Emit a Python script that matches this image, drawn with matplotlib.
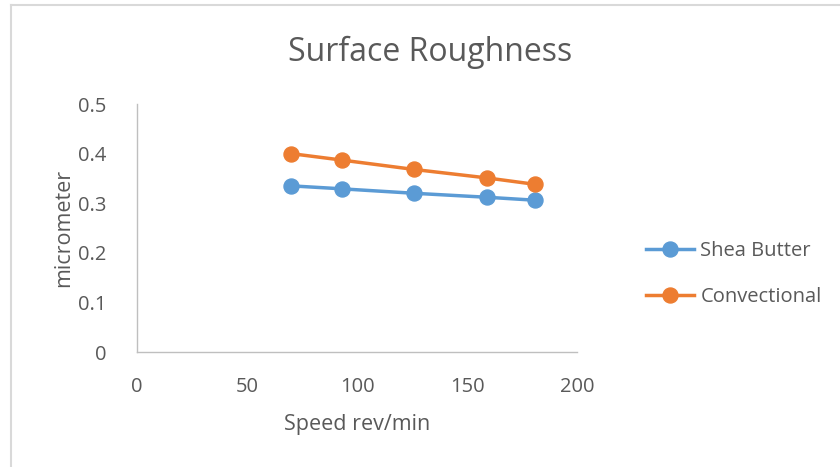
import matplotlib.pyplot as plt
from matplotlib.lines import Line2D

# speed (rev/min) and surface roughness (micrometer)
speed = [70, 93, 126, 159, 181]
shea_butter = [0.335, 0.329, 0.320, 0.312, 0.306]
convectional = [0.400, 0.387, 0.368, 0.351, 0.338]
series_names = ['Shea Butter', 'Convectional']
x_ticks = [0, 50, 100, 150, 200]
y_ticks = [0, 0.1, 0.2, 0.3, 0.4, 0.5]
y_labels = ['0', '0.1', '0.2', '0.3', '0.4', '0.5']

blue = '#5B9BD5'
orange = '#ED7D31'
grey_text = '#595959'
axis_grey = '#BFBFBF'

plt.rcParams['font.family'] = ['Open Sans', 'DejaVu Sans']

fig = plt.figure(figsize=(8.4, 4.67), dpi=100)
ax = fig.add_axes([137 / 840, 1 - 352 / 467, 440 / 840, 248 / 467])

style = dict(linewidth=2.5, marker='o', markersize=10.8, solid_capstyle='round')
ax.plot(speed, shea_butter, color=blue, **style)
ax.plot(speed, convectional, color=orange, **style)

ax.set_xlim(0, 200)
ax.set_ylim(0, 0.5)
ax.set_xticks(x_ticks)
ax.set_yticks(y_ticks)
ax.set_yticklabels(y_labels)
ax.tick_params(length=0, labelsize=14.5, colors=grey_text)
ax.tick_params(axis='x', pad=18)
ax.tick_params(axis='y', pad=22)
for side in ['top', 'right']:
    ax.spines[side].set_visible(False)
for side in ['left', 'bottom']:
    ax.spines[side].set_color(axis_grey)
    ax.spines[side].set_linewidth(1.0)

ax.set_xlabel('Speed rev/min', fontsize=15.5, color=grey_text, labelpad=12)
ax.set_ylabel('micrometer', fontsize=15.5, color=grey_text, labelpad=3)
fig.text(430 / 840, 1 - 52 / 467, 'Surface Roughness', fontsize=23,
         color=grey_text, ha='center', va='center')

handles = [Line2D([], [], color=c, linewidth=2.5, marker='o', markersize=10.8)
           for c in (blue, orange)]
fig.legend(handles, series_names, loc='center left',
           bbox_to_anchor=(628 / 840, 1 - 274 / 467), frameon=False,
           fontsize=14.5, labelcolor=grey_text, handlelength=2.4,
           handletextpad=0.3, labelspacing=1.25)

# thin frame around the chart area
fig.add_artist(Line2D([11 / 840, 11 / 840], [0, 1 - 5 / 467],
                      color='#D9D9D9', linewidth=1.5, transform=fig.transFigure))
fig.add_artist(Line2D([11 / 840, 1], [1 - 5 / 467, 1 - 5 / 467],
                      color='#D9D9D9', linewidth=1.5, transform=fig.transFigure))

fig.savefig('out.png', dpi=100)
